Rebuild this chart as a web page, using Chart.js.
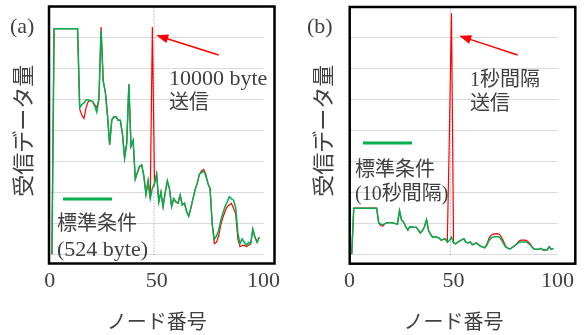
<!DOCTYPE html>
<html lang="ja">
<head>
<meta charset="UTF-8">
<title>受信データ量</title>
<script src="https://cdn.jsdelivr.net/npm/chart.js"></script>
<style>
  body { margin: 0; background: #fff; }
  #wrap { position: relative; width: 587px; height: 335px; overflow: hidden; }
  canvas { position: absolute; top: 0; }
  #chartA { left: 0; }
  #chartB { left: 293px; }
</style>
</head>
<body>
<div id="wrap">
  <canvas id="chartA" width="293" height="335"></canvas>
  <canvas id="chartB" width="294" height="335"></canvas>
</div>
<script>
// ノード番号 1..98
const nodes = Array.from({ length: 98 }, (_, i) => i + 1);
const xTicks = [0, 50, 100];

// (a) 10000 byte 送信 (red) vs 標準条件 524 byte (green)
const aGreen = [
  0, 7.3, 7.3, 7.3, 7.3, 7.3, 7.3, 7.3, 7.3, 7.3,
  7.3, 7.3, 7.3, 4.75, 4.85, 4.9, 5.0, 5.0, 4.97, 4.95,
  4.8, 4.6, 5.04, 7.25, 5.6, 5.25, 4.5, 3.55, 4.35, 4.45,
  4.45, 4.34, 4.34, 3.9, 3.12, 3.6, 5.5, 3.5, 3.69, 2.44,
  2.65, 2.85, 2.9, 2.54, 1.95, 2.38, 1.81, 2.15, 2.3, 2.6,
  1.7, 2.02, 1.55, 2.0, 2.38, 2.13, 1.55, 1.81, 1.7, 1.66,
  1.92, 1.6, 1.66, 1.4, 1.24, 1.5, 1.81, 2.1, 2.3, 2.6,
  2.65, 2.7, 2.54, 2.3, 2.13, 0.98, 0.5, 0.6, 0.77, 1.1,
  1.34, 1.55, 1.7, 1.87, 1.8, 1.76, 1.5, 0.7, 0.35, 0.51,
  0.4, 0.3, 0.4, 0.35, 0.82, 0.56, 0.4, 0.56
];
const aRed = [
  0, 7.3, 7.3, 7.3, 7.3, 7.3, 7.3, 7.3, 7.3, 7.3,
  7.3, 7.3, 7.3, 4.7, 4.5, 4.4, 4.75, 4.95, 4.97, 4.95,
  4.85, 4.75, 5.04, 7.35, 5.6, 5.25, 4.5, 3.55, 4.35, 4.45,
  4.45, 4.34, 4.34, 3.9, 3.12, 3.6, 5.5, 3.5, 3.69, 2.44,
  2.65, 2.85, 2.9, 2.54, 1.95, 2.38, 1.81, 7.35, 2.3, 2.6,
  1.7, 2.02, 1.55, 2.0, 2.38, 2.13, 1.55, 1.81, 1.7, 1.66,
  1.92, 1.6, 1.66, 1.4, 1.24, 1.5, 1.81, 2.1, 2.3, 2.6,
  2.7, 2.75, 2.6, 2.3, 2.13, 0.98, 0.35, 0.4, 0.6, 0.95,
  1.2, 1.4, 1.55, 1.6, 1.65, 1.5, 1.3, 0.5, 0.25, 0.3,
  0.3, 0.25, 0.3, 0.35, 0.82, 0.56, 0.4, 0.56
];

// (b) 1秒間隔 送信 (red) vs 標準条件 10秒間隔 (green)
const bGreen = [
  0, 1.5, 1.5, 1.5, 1.5, 1.5, 1.5, 1.5, 1.5, 1.5,
  1.5, 1.5, 1.5, 1.03, 0.98, 0.96, 1.0, 1.03, 1.03, 1.03,
  1.02, 1.0, 0.98, 1.42, 1.11, 1.05, 0.9, 0.79, 0.9, 0.89,
  0.88, 0.88, 0.8, 0.7, 0.77, 0.9, 1.13, 0.77, 0.65, 0.56,
  0.58, 0.56, 0.54, 0.47, 0.49, 0.51, 0.41, 0.45, 0.56, 0.38,
  0.35, 0.4, 0.44, 0.48, 0.51, 0.4, 0.38, 0.41, 0.32, 0.34,
  0.38, 0.32, 0.27, 0.25, 0.22, 0.3, 0.45, 0.53, 0.57, 0.58,
  0.58, 0.57, 0.48, 0.36, 0.25, 0.21, 0.18, 0.22, 0.27, 0.32,
  0.37, 0.41, 0.41, 0.41, 0.41, 0.36, 0.3, 0.22, 0.17, 0.17,
  0.17, 0.2, 0.15, 0.15, 0.15, 0.25, 0.17, 0.2
];
const bRed = [
  0, 1.5, 1.5, 1.5, 1.5, 1.5, 1.5, 1.5, 1.5, 1.5,
  1.5, 1.5, 1.5, 1.03, 0.93, 0.92, 1.0, 1.03, 1.03, 1.03,
  1.02, 1.0, 0.98, 1.42, 1.11, 1.05, 0.9, 0.79, 0.9, 0.89,
  0.88, 0.88, 0.8, 0.7, 0.77, 0.9, 1.13, 0.77, 0.65, 0.56,
  0.58, 0.56, 0.54, 0.47, 0.49, 0.51, 0.41, 3.9, 7.8, 0.38,
  0.35, 0.4, 0.44, 0.48, 0.51, 0.4, 0.38, 0.41, 0.32, 0.34,
  0.38, 0.32, 0.27, 0.25, 0.22, 0.33, 0.52, 0.62, 0.66, 0.67,
  0.68, 0.66, 0.57, 0.43, 0.28, 0.21, 0.18, 0.22, 0.27, 0.32,
  0.4, 0.46, 0.47, 0.47, 0.46, 0.41, 0.34, 0.22, 0.17, 0.17,
  0.17, 0.2, 0.15, 0.15, 0.15, 0.25, 0.17, 0.2
];

// 送信ノードの位置 (dotted line) and arrow ends, in data units
const markA = 48.8, markB = 48.5;
const arrowA = [[79, 6.45], [49.8, 7.09]];
const arrowB = [[80.8, 6.45], [52.7, 7.07]];

const serif = '"Liberation Serif", "Noto Sans CJK JP", serif';
const gothic = '"Noto Sans CJK JP", sans-serif';
const textColor = '#404040';
const green = '#00b050';
const red = '#ff0000';

const pts = vals => vals.map((v, i) => ({ x: nodes[i], y: v }));

function makePanel(id, o) {
  const extras = {
    id: 'extras',
    afterDraw(chart) {
      const { ctx, scales: { x, y } } = chart;
      ctx.save();
      // arrow
      const x1 = x.getPixelForValue(o.arrow[0][0]), y1 = y.getPixelForValue(o.arrow[0][1]);
      const x2 = x.getPixelForValue(o.arrow[1][0]), y2 = y.getPixelForValue(o.arrow[1][1]);
      const ang = Math.atan2(y2 - y1, x2 - x1);
      const c = Math.cos(ang), s = Math.sin(ang);
      ctx.strokeStyle = red;
      ctx.fillStyle = red;
      ctx.lineWidth = 1.5;
      ctx.beginPath();
      ctx.moveTo(x1, y1);
      ctx.lineTo(x2 - 10 * c, y2 - 10 * s);
      ctx.stroke();
      ctx.beginPath();
      ctx.moveTo(x2, y2);
      ctx.lineTo(x2 - 12 * c + 4.5 * s, y2 - 12 * s - 4.5 * c);
      ctx.lineTo(x2 - 12 * c - 4.5 * s, y2 - 12 * s + 4.5 * c);
      ctx.closePath();
      ctx.fill();
      // legend sample line
      ctx.strokeStyle = green;
      ctx.lineWidth = 3;
      ctx.beginPath();
      ctx.moveTo(o.legend[0], o.legend[2]);
      ctx.lineTo(o.legend[1], o.legend[2]);
      ctx.stroke();
      // texts
      ctx.fillStyle = textColor;
      ctx.textBaseline = 'alphabetic';
      ctx.textAlign = 'left';
      o.texts.forEach(t => {
        ctx.font = t.font;
        ctx.fillText(t.text, t.x, t.y);
      });
      // outer frame
      ctx.strokeStyle = '#000';
      ctx.lineWidth = 2.5;
      const f = o.frame;
      ctx.strokeRect(f[0], f[1], f[2] - f[0], f[3] - f[1]);
      ctx.restore();
    }
  };

  return new Chart(document.getElementById(id), {
    type: 'line',
    data: {
      datasets: [
        { label: '標準条件', data: pts(o.green), borderColor: green, borderWidth: 1.5, pointRadius: 0, tension: 0 },
        { label: '送信', data: pts(o.red), borderColor: red, borderWidth: 1.2, pointRadius: 0, tension: 0 },
        { label: 'mark', data: [{ x: o.mark, y: 0 }, { x: o.mark, y: 8 }], borderColor: '#8c8c8c', borderWidth: 1, borderDash: [1, 2], pointRadius: 0 }
      ]
    },
    options: {
      responsive: false,
      animation: false,
      events: [],
      layout: { autoPadding: false, padding: o.padding },
      plugins: { legend: { display: false }, tooltip: { enabled: false } },
      scales: {
        x: {
          type: 'linear', min: 0, max: 100,
          grid: { display: false, drawTicks: false },
          border: { display: false },
          afterBuildTicks: axis => { axis.ticks = xTicks.map(v => ({ value: v })); },
          ticks: { autoSkip: false, maxRotation: 0, padding: 13, color: textColor,
                   font: { family: serif, size: 22 } },
          title: { display: true, text: 'ノード番号', color: textColor,
                   font: { family: gothic, size: 20 }, padding: { top: 2, bottom: 2 } }
        },
        y: {
          min: 0, max: 8,
          grid: { color: '#d9d9d9', lineWidth: 1, drawTicks: false },
          border: { display: false },
          ticks: { display: false, stepSize: 1 },
          title: { display: true, text: '受信データ量', color: textColor,
                   font: { family: gothic, size: 22 }, padding: { top: 0, bottom: o.yTitleGap } }
        }
      }
    },
    plugins: [extras]
  });
}

makePanel('chartA', {
  green: aGreen, red: aRed, mark: markA, arrow: arrowA,
  padding: { left: 9, right: 25.5, top: 7, bottom: 0 },
  yTitleGap: 14.4,
  frame: [49, 6.5, 274.5, 263.5],
  legend: [63, 112, 199],
  texts: [
    { text: '(a)', x: 10, y: 33, font: '22px ' + serif },
    { text: '10000 byte', x: 169, y: 85, font: '22px ' + serif },
    { text: '送信', x: 169, y: 109, font: '20px ' + gothic },
    { text: '標準条件', x: 57, y: 230, font: '20px ' + gothic },
    { text: '(524 byte)', x: 57, y: 256, font: '22px ' + serif }
  ]
});

makePanel('chartB', {
  green: bGreen, red: bRed, mark: markB, arrow: arrowB,
  padding: { left: 16, right: 14, top: 7, bottom: 0 },
  yTitleGap: 14.2,
  frame: [56.7, 7, 282.3, 263.7],
  legend: [70, 119, 143],
  texts: [
    { text: '(b)', x: 14, y: 33, font: '22px ' + serif },
    { text: '1秒間隔', x: 177, y: 86, font: '20px ' + serif },
    { text: '送信', x: 177, y: 110, font: '20px ' + gothic },
    { text: '標準条件', x: 62, y: 176, font: '20px ' + gothic },
    { text: '(10秒間隔)', x: 62, y: 200, font: '20px ' + serif }
  ]
});
</script>
</body>
</html>
